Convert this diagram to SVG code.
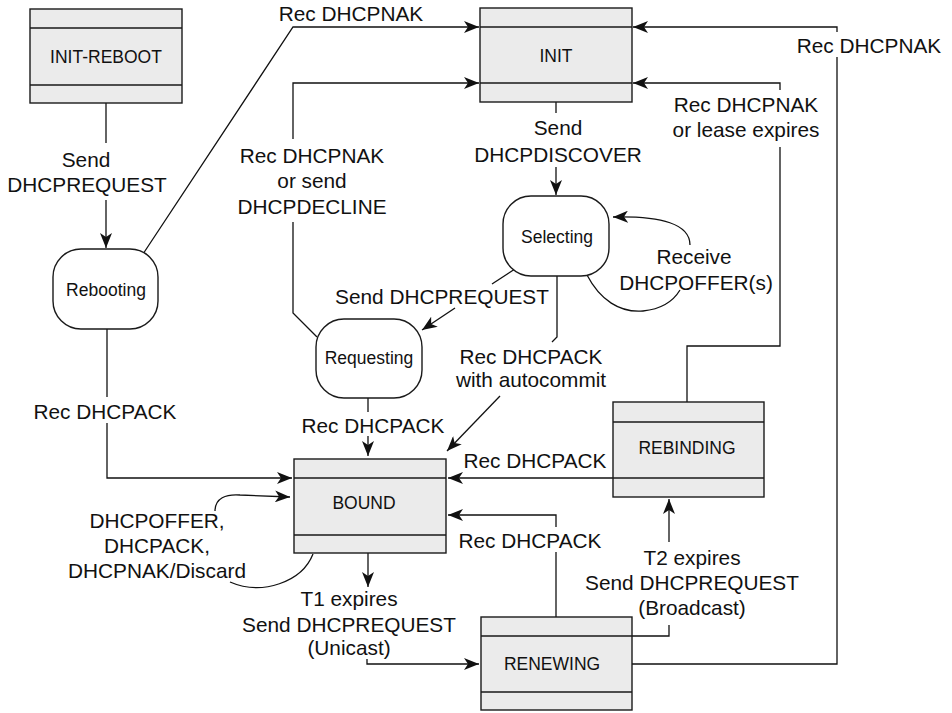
<svg xmlns="http://www.w3.org/2000/svg" width="952" height="713" viewBox="0 0 952 713">
<style>
.box{fill:#ebebeb;stroke:#1a1a1a;stroke-width:1.4}
.div{stroke:#1a1a1a;stroke-width:1.4;fill:none}
.st{fill:#fff;stroke:#1a1a1a;stroke-width:1.4}
.nl{font-family:"Liberation Sans",Arial,sans-serif;font-size:17.5px;fill:#111;text-anchor:middle}
.lb{font-family:"Liberation Sans",Arial,sans-serif;font-size:20.8px;fill:#111;text-anchor:middle}
.c{fill:none;stroke:#111;stroke-width:1.3}
.a{marker-end:url(#ah)}
</style>
<defs>
<marker id="ah" markerUnits="userSpaceOnUse" markerWidth="16" markerHeight="12" refX="15" refY="6" orient="auto">
<path d="M0,0 L15,6 L0,12 L4,6 z" fill="#111"/>
</marker>
</defs>
<rect width="952" height="713" fill="#fff"/>
<g id="connectors">
<path class="c" d="M106,103 V143"/>
<path class="c a" d="M106,200 V248"/>
<path class="c a" d="M143,254 L293,27 H479"/>
<path class="c" d="M317,337 L293,313 V222"/>
<path class="c a" d="M293,139 V83 H479"/>
<path class="c" d="M556,102 V113"/>
<path class="c a" d="M556,167 V195"/>
<path class="c" d="M587,275 C600,300 620,313 643,311 C662,309 674,300 680,290"/>
<path class="c a" d="M690,245 C690,224 662,216 613,217"/>
<path class="c" d="M515,269 L492,284"/>
<path class="c a" d="M455,308 L422,330"/>
<path class="c" d="M557,276 V337 L552,342"/>
<path class="c a" d="M500,396 L447,451"/>
<path class="c" d="M368,398 V412"/>
<path class="c a" d="M368,436 V456"/>
<path class="c" d="M107,329 V397"/>
<path class="c a" d="M107,423 V478 H292"/>
<path class="c" d="M313,554 C302,582 262,596 230,582"/>
<path class="c a" d="M215,511 C215,498 226,494 240,495 L290,497"/>
<path class="c a" d="M613,478 H448"/>
<path class="c" d="M556,617 V552"/>
<path class="c a" d="M556,527 V515 H448"/>
<path class="c a" d="M368,553 V587"/>
<path class="c a" d="M367,659 V664 H479"/>
<path class="c" d="M632,636 H669 V625"/>
<path class="c a" d="M669,542 V499"/>
<path class="c" d="M632,664 H837 V57"/>
<path class="c a" d="M837,32 V27 H633"/>
<path class="c" d="M687,402 V346 H780 V147"/>
<path class="c a" d="M780,90 V83 H633"/>
<text class="lb"><tspan x="86" y="167">Send</tspan><tspan x="87" y="192">DHCPREQUEST</tspan></text>
<text class="lb" x="351" y="21">Rec DHCPNAK</text>
<text class="lb"><tspan x="312" y="163">Rec DHCPNAK</tspan><tspan x="312" y="188">or send</tspan><tspan x="312" y="214">DHCPDECLINE</tspan></text>
<text class="lb"><tspan x="558" y="135">Send</tspan><tspan x="558" y="162">DHCPDISCOVER</tspan></text>
<text class="lb" x="869" y="53">Rec DHCPNAK</text>
<text class="lb"><tspan x="746" y="112">Rec DHCPNAK</tspan><tspan x="746" y="137">or lease expires</tspan></text>
<text class="lb"><tspan x="694" y="264">Receive</tspan><tspan x="696" y="290">DHCPOFFER(s)</tspan></text>
<text class="lb" x="442" y="304">Send DHCPREQUEST</text>
<text class="lb"><tspan x="531" y="364">Rec DHCPACK</tspan><tspan x="531" y="387">with autocommit</tspan></text>
<text class="lb" x="105" y="419">Rec DHCPACK</text>
<text class="lb" x="373" y="433">Rec DHCPACK</text>
<text class="lb" x="535" y="468">Rec DHCPACK</text>
<text class="lb" x="530" y="548">Rec DHCPACK</text>
<text class="lb"><tspan x="157" y="528">DHCPOFFER,</tspan><tspan x="157" y="553">DHCPACK,</tspan><tspan x="157" y="578">DHCPNAK/Discard</tspan></text>
<text class="lb"><tspan x="349" y="606">T1 expires</tspan><tspan x="349" y="632">Send DHCPREQUEST</tspan><tspan x="349" y="655">(Unicast)</tspan></text>
<text class="lb"><tspan x="692" y="565">T2 expires</tspan><tspan x="692" y="590">Send DHCPREQUEST</tspan><tspan x="692" y="615">(Broadcast)</tspan></text>
</g>
<g id="init-reboot">
<rect class="box" x="30" y="9" width="152" height="94"/>
<path class="div" d="M30,28 H182 M30,85 H182"/>
<text class="nl" x="106" y="63">INIT-REBOOT</text>
</g>
<g id="init">
<rect class="box" x="480" y="8" width="152" height="94"/>
<path class="div" d="M480,27 H632 M480,83 H632"/>
<text class="nl" x="556" y="62">INIT</text>
</g>
<g id="rebooting">
<rect class="st" x="53" y="249" width="105" height="80" rx="28"/>
<text class="nl" x="106" y="296">Rebooting</text>
</g>
<g id="selecting">
<rect class="st" x="503" y="196" width="106" height="80" rx="28"/>
<text class="nl" x="557" y="243">Selecting</text>
</g>
<g id="requesting">
<rect class="st" x="316" y="319" width="106" height="79" rx="28"/>
<text class="nl" x="369" y="364">Requesting</text>
</g>
<g id="bound">
<rect class="box" x="294" y="459" width="152" height="94"/>
<path class="div" d="M294,478 H446 M294,535 H446"/>
<text class="nl" x="364" y="509">BOUND</text>
</g>
<g id="rebinding">
<rect class="box" x="613" y="402" width="151" height="95"/>
<path class="div" d="M613,422 H764 M613,478 H764"/>
<text class="nl" x="687" y="454">REBINDING</text>
</g>
<g id="renewing">
<rect class="box" x="481" y="617" width="151" height="93"/>
<path class="div" d="M481,636 H632 M481,692 H632"/>
<text class="nl" x="552" y="670">RENEWING</text>
</g>
</svg>
